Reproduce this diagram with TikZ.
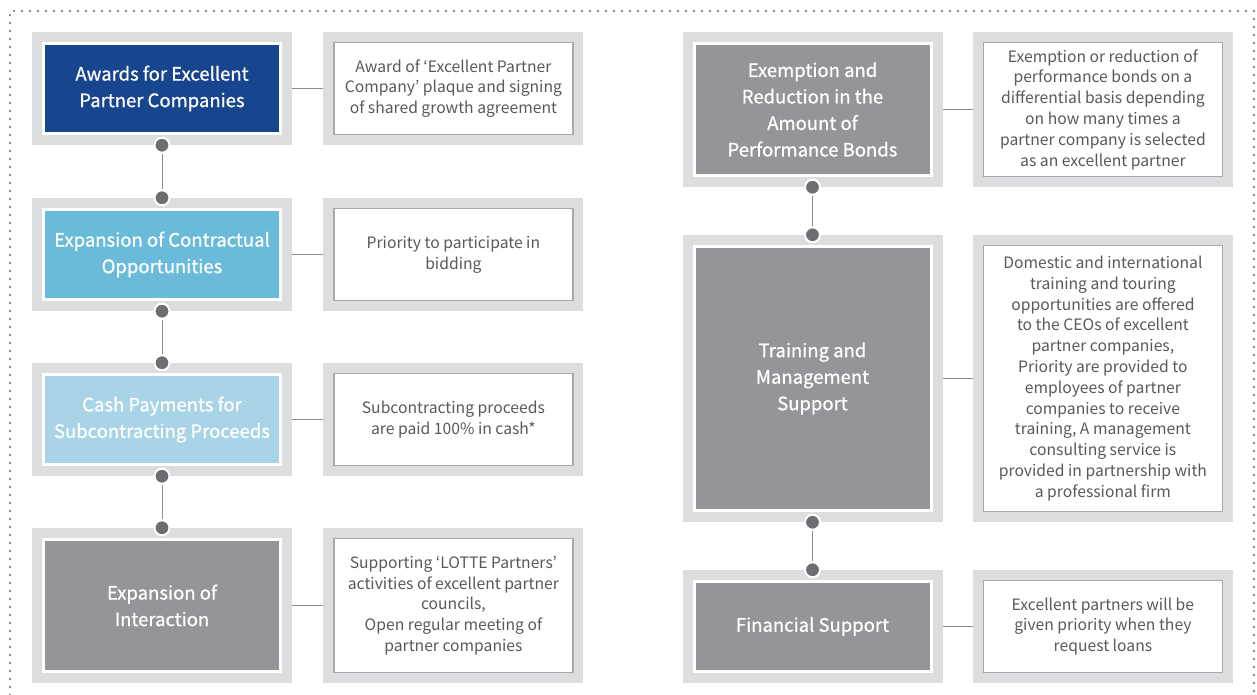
\documentclass[tikz,border=0pt]{standalone}
\usepackage{fontspec}
\setmainfont{Noto Sans CJK KR}
\newfontfamily\headfont[FakeBold=0.7]{Noto Sans CJK KR}
\usepackage{xcolor}
\usetikzlibrary{positioning}
\definecolor{frame}{HTML}{DCDDDE}
\definecolor{navy}{HTML}{17468F}
\definecolor{sky}{HTML}{6ABBD9}
\definecolor{pale}{HTML}{A9D3E6}
\definecolor{slate}{HTML}{939598}
\definecolor{ink}{HTML}{58595B}
\definecolor{rim}{HTML}{A7A9AC}
\definecolor{pindot}{HTML}{6D6E71}

\begin{document}
\begin{tikzpicture}[x=1pt,y=-1pt,
  outer/.style={fill=frame,minimum width=260pt,inner sep=0pt},
  head/.style={draw=white,line width=3pt,minimum width=237pt,text=white,
    align=center,font=\headfont\fontsize{18.5}{26.5}\selectfont},
  note/.style={draw=rim,line width=1.2pt,fill=white,minimum width=239pt,
    text=ink,align=center,inner sep=0pt,font=\fontsize{15.7}{20.8}\selectfont},
  pin/.style={circle,fill=pindot,draw=white,line width=2pt,
    minimum size=15pt,inner sep=0pt},
  link/.style={draw=black!45,line width=1pt}]
 \useasboundingbox (0,0) rectangle (1257,695);
 \draw[black!60,line width=2.2pt,line cap=round,dash pattern=on 0pt off 8pt]
   (10,695) -- (10,11) -- (1254,11) -- (1254,695);

 % left column
 \node[outer,minimum height=113pt] (aw-f) at (162,88.5) {};
 \node[outer,minimum height=113pt] (co-f) at (162,254.5) {};
 \node[outer,minimum height=113pt] (ca-f) at (162,419.5) {};
 \node[outer,minimum height=155pt] (in-f) at (162,605.5) {};
 \node[head,fill=navy,minimum height=90pt] (aw) at (aw-f)
   {Awards for Excellent\\Partner Companies};
 \node[head,fill=sky,minimum height=90pt] (co) at (co-f)
   {Expansion of Contractual\\Opportunities};
 \node[head,fill=pale,minimum height=90pt] (ca) at (ca-f)
   {Cash Payments for\\Subcontracting Proceeds};
 \node[head,fill=slate,minimum height=132pt] (in) at (in-f)
   {Expansion of\\Interaction};

 \node[outer,minimum height=113pt,right=31pt of aw-f] (aw-nf) {};
 \node[outer,minimum height=113pt,right=31pt of co-f] (co-nf) {};
 \node[outer,minimum height=113pt,right=31pt of ca-f] (ca-nf) {};
 \node[outer,minimum height=155pt,right=31pt of in-f] (in-nf) {};
 \node[note,minimum height=92pt] (aw-n) at (aw-nf)
   {Award of ‘Excellent Partner\\Company’ plaque and signing\\of shared growth agreement};
 \node[note,minimum height=92pt] (co-n) at (co-nf)
   {Priority to participate in\\bidding};
 \node[note,minimum height=92pt] (ca-n) at (ca-nf)
   {Subcontracting proceeds\\are paid 100\% in cash*};
 \node[note,minimum height=134pt] (in-n) at (in-nf)
   {Supporting ‘LOTTE Partners’\\activities of excellent partner\\councils,\\Open regular meeting of\\partner companies};

 % right column
 \node[outer,minimum height=155pt] (ex-f) at (812.5,109.5) {};
 \node[outer,minimum height=287pt] (tr-f) at (812.5,378.5) {};
 \node[outer,minimum height=113pt] (fi-f) at (812.5,626.5) {};
 \node[head,fill=slate,minimum height=132pt] (ex) at (ex-f)
   {Exemption and\\Reduction in the\\Amount of\\Performance Bonds};
 \node[head,fill=slate,minimum height=264pt] (tr) at (tr-f)
   {Training and\\Management\\Support};
 \node[head,fill=slate,minimum height=90pt] (fi) at (fi-f)
   {Financial Support};

 \node[outer,minimum height=155pt,right=30pt of ex-f] (ex-nf) {};
 \node[outer,minimum height=287pt,right=30pt of tr-f] (tr-nf) {};
 \node[outer,minimum height=113pt,right=30pt of fi-f] (fi-nf) {};
 \node[note,minimum height=134pt] (ex-n) at (ex-nf)
   {Exemption or reduction of\\performance bonds on a\\differential basis depending\\on how many times a\\partner company is selected\\as an excellent partner};
 \node[note,minimum height=266pt] (tr-n) at (tr-nf)
   {Domestic and international\\training and touring\\opportunities are offered\\to the CEOs of excellent\\partner companies,\\Priority are provided to\\employees of partner\\companies to receive\\training, A management\\consulting service is\\provided in partnership with\\a professional firm};
 \node[note,minimum height=92pt] (fi-n) at (fi-nf)
   {Excellent partners will be\\given priority when they\\request loans};

 \foreach \a in {aw,co,ca,in,ex,tr,fi}
   \draw[link] (\a-f) -- (\a-nf);

 % pins between the steps
 \foreach \a/\b in {aw/co,co/ca,ca/in,ex/tr,tr/fi} {
   \node[pin] (\a-pa) at (\a-f.south) {};
   \node[pin] (\a-pb) at (\b-f.north) {};
   \draw[link] (\a-pa) -- (\a-pb);
 }
\end{tikzpicture}
\end{document}
